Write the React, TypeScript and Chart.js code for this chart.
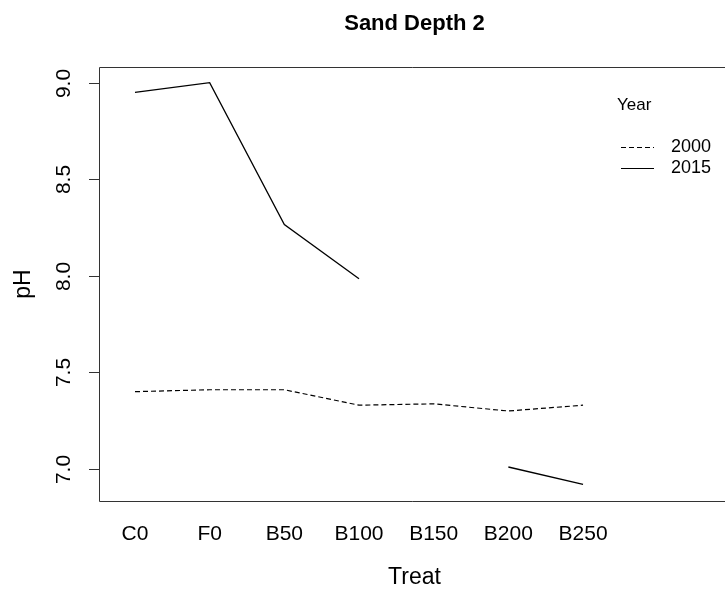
import React, { useEffect, useRef } from "react";
import { Chart, registerables } from "chart.js";

Chart.register(...registerables);

const categories = ["C0", "F0", "B50", "B100", "B150", "B200", "B250"];
const series2000 = [7.4, 7.41, 7.41, 7.33, 7.337, 7.3, 7.33];
const series2015 = [8.95, 9.0, 8.265, 7.985, null, 7.01, 6.92];
const yTickValues = [7.0, 7.5, 8.0, 8.5, 9.0];
const yTickLabels = ["7.0", "7.5", "8.0", "8.5", "9.0"];
const legendTitle = "Year";
const legendLabels = ["2000", "2015"];
const chartTitle = "Sand Depth 2";
const xTitle = "Treat";
const yTitle = "pH";

const FONT = "'Liberation Sans', Arial, Helvetica, sans-serif";

const decorPlugin = {
  id: "decor",
  afterDraw(chart: any) {
    const { ctx, chartArea, scales } = chart;
    const ys = scales.y;
    ctx.save();
    // box (right side extends beyond canvas)
    ctx.strokeStyle = "#333";
    ctx.lineWidth = 1;
    ctx.beginPath();
    ctx.moveTo(chartArea.right + 10, chartArea.top + 0.5);
    ctx.lineTo(chartArea.left + 0.5, chartArea.top + 0.5);
    ctx.lineTo(chartArea.left + 0.5, chartArea.bottom + 0.5);
    ctx.lineTo(chartArea.right + 10, chartArea.bottom + 0.5);
    ctx.stroke();

    // y tick marks and rotated labels
    ctx.fillStyle = "#000";
    ctx.strokeStyle = "#333";
    ctx.font = `21px ${FONT}`;
    ctx.textAlign = "center";
    ctx.textBaseline = "middle";
    yTickValues.forEach((v, i) => {
      const py = Math.round(ys.getPixelForValue(v)) + 0.5;
      ctx.beginPath();
      ctx.moveTo(chartArea.left - 10, py);
      ctx.lineTo(chartArea.left, py);
      ctx.stroke();
      ctx.save();
      ctx.translate(64, py);
      ctx.rotate(-Math.PI / 2);
      ctx.fillText(yTickLabels[i], 0, 0);
      ctx.restore();
    });

    // title
    const cx = (chartArea.left + 730) / 2;
    ctx.font = `bold 22px ${FONT}`;
    ctx.fillText(chartTitle, cx, 24);

    // axis titles
    ctx.font = `23px ${FONT}`;
    ctx.fillText(xTitle, cx, 578);
    ctx.save();
    ctx.translate(24, (chartArea.top + chartArea.bottom) / 2);
    ctx.rotate(-Math.PI / 2);
    ctx.fillText(yTitle, 0, 0);
    ctx.restore();

    // legend
    ctx.textAlign = "left";
    ctx.font = `17px ${FONT}`;
    ctx.fillText(legendTitle, 617, 105);
    ctx.font = `18px ${FONT}`;
    const rows = [147, 168];
    legendLabels.forEach((lab, i) => {
      ctx.strokeStyle = "#000";
      ctx.lineWidth = 1.2;
      ctx.setLineDash(i === 0 ? [5, 3] : []);
      ctx.beginPath();
      ctx.moveTo(621, rows[i] + 0.5);
      ctx.lineTo(654, rows[i] + 0.5);
      ctx.stroke();
      ctx.setLineDash([]);
      ctx.fillText(lab, 671, rows[i]);
    });
    ctx.restore();
  },
};

export default function App() {
  const ref = useRef<HTMLCanvasElement | null>(null);
  useEffect(() => {
    if (!ref.current) return;
    const toPts = (arr: (number | null)[]) => arr.map((v, i) => ({ x: i + 1, y: v }));
    const chart = new Chart(ref.current, {
      type: "line",
      data: {
        datasets: [
          {
            label: legendLabels[0],
            data: toPts(series2000) as any,
            borderColor: "#000",
            borderWidth: 1.2,
            borderDash: [5, 3],
            pointRadius: 0,
            spanGaps: false,
            tension: 0,
          },
          {
            label: legendLabels[1],
            data: toPts(series2015) as any,
            borderColor: "#000",
            borderWidth: 1.3,
            pointRadius: 0,
            spanGaps: false,
            tension: 0,
          },
        ],
      },
      options: {
        animation: false,
        responsive: false,
        devicePixelRatio: 1,
        layout: { padding: { top: 67, right: 0, bottom: 0, left: 0 } },
        plugins: {
          legend: { display: false },
          title: { display: false },
          tooltip: { enabled: false },
        },
        scales: {
          x: {
            type: "linear",
            min: 0.518,
            max: 8.901,
            grid: { display: false },
            border: { display: false },
            afterBuildTicks: (s: any) => {
              s.ticks = categories.map((_, i) => ({ value: i + 1 }));
            },
            afterFit: (s: any) => {
              s.height = 91;
            },
            ticks: {
              autoSkip: false,
              maxRotation: 0,
              minRotation: 0,
              padding: 13,
              color: "#000",
              font: { family: FONT, size: 21 },
              callback: (v: any) => categories[Math.round(Number(v)) - 1] ?? "",
            },
          },
          y: {
            type: "linear",
            min: 6.834,
            max: 9.081,
            grid: { display: false },
            border: { display: false },
            afterBuildTicks: (s: any) => {
              s.ticks = yTickValues.map((v) => ({ value: v }));
            },
            afterFit: (s: any) => {
              s.width = 99;
            },
            ticks: { display: false },
          },
        },
      },
      plugins: [decorPlugin],
    });
    return () => chart.destroy();
  }, []);
  return (
    <div style={{ position: "absolute", left: 0, top: 0, width: 725, height: 592, background: "#fff" }}>
      <canvas ref={ref} width={725} height={592} style={{ display: "block" }} />
    </div>
  );
}
